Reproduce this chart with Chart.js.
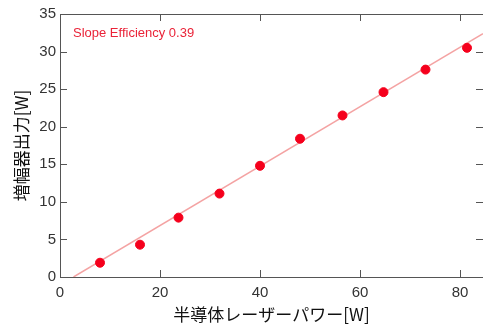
<!DOCTYPE html>
<html>
<head>
<meta charset="utf-8">
<script src="https://cdn.jsdelivr.net/npm/chart.js@4"></script>
<style>
  html, body { margin: 0; padding: 0; background: #fff; }
  #wrap { width: 483px; height: 326px; }
</style>
</head>
<body>
<div id="wrap"><canvas id="chart"></canvas></div>
<script>
// measured points
var laserPower = [8, 16, 23.7, 31.9, 40, 48, 56.5, 64.7, 73.1, 81.4];
var ampOutput = [1.9, 4.3, 7.9, 11.1, 14.8, 18.4, 21.5, 24.6, 27.6, 30.5];

// fitted line (ends)
var fitX = [2.7, 84.6];
var fitY = [0, 32.4];

var xTicks = [0, 20, 40, 60, 80];
var yTicks = [0, 5, 10, 15, 20, 25, 30, 35];

var slopeLabel = 'Slope Efficiency 0.39';

var pts = laserPower.map(function (x, i) { return { x: x, y: ampOutput[i] }; });
var fit = fitX.map(function (x, i) { return { x: x, y: fitY[i] }; });

// box + inward ticks
var frame = {
    id: 'frame',
    afterDraw: function (chart) {
        var ctx = chart.ctx, a = chart.chartArea;
        var xs = chart.scales.x, ys = chart.scales.y;
        var len = 7;
        ctx.save();
        ctx.strokeStyle = '#555';
        ctx.lineWidth = 1;
        ctx.beginPath();
        ctx.rect(a.left + 0.5, a.top + 0.5, a.right - a.left, a.bottom - a.top);
        xTicks.forEach(function (v) {
            var px = Math.round(xs.getPixelForValue(v)) + 0.5;
            ctx.moveTo(px, a.bottom); ctx.lineTo(px, a.bottom - len);
            ctx.moveTo(px, a.top); ctx.lineTo(px, a.top + len);
        });
        yTicks.forEach(function (v) {
            var py = Math.round(ys.getPixelForValue(v)) + 0.5;
            ctx.moveTo(a.left, py); ctx.lineTo(a.left + len, py);
            ctx.moveTo(a.right, py); ctx.lineTo(a.right - len, py);
        });
        ctx.stroke();

        ctx.fillStyle = '#ea2338';
        ctx.font = '13px "Liberation Sans", Arial, sans-serif';
        ctx.textBaseline = 'middle';
        ctx.fillText(slopeLabel, a.left + 13, a.top + 19);
        ctx.restore();
    }
};

new Chart(document.getElementById('chart'), {
    type: 'scatter',
    data: {
        datasets: [{
            data: fit,
            showLine: true,
            borderColor: '#f4a3a3',
            borderWidth: 1.5,
            pointRadius: 0,
            order: 2
        }, {
            data: pts,
            backgroundColor: '#f5001c',
            borderColor: '#f5001c',
            pointRadius: 4.5,
            order: 1
        }]
    },
    options: {
        responsive: true,
        maintainAspectRatio: false,
        animation: false,
        layout: { autoPadding: false, padding: { top: 14, right: 0, left: 0, bottom: 0 } },
        plugins: { legend: { display: false }, tooltip: { enabled: false } },
        scales: {
            x: {
                type: 'linear',
                min: 0,
                max: 84.6,
                afterBuildTicks: function (s) { s.ticks = xTicks.map(function (v) { return { value: v }; }); },
                afterFit: function (s) { s.height = 49; s.paddingLeft = 0; s.paddingRight = 0; },
                grid: { display: false, drawTicks: false },
                border: { display: false },
                ticks: { color: '#333', padding: 7, font: { family: '"Liberation Sans", Arial, sans-serif', size: 15 } },
                title: {
                    display: true,
                    text: '半導体レーザーパワー[W]',
                    color: '#111',
                    padding: { top: 0, bottom: 1 },
                    font: { family: '"Noto Sans CJK JP", sans-serif', size: 17 }
                }
            },
            y: {
                min: 0,
                max: 35,
                afterBuildTicks: function (s) { s.ticks = yTicks.map(function (v) { return { value: v }; }); },
                afterFit: function (s) { s.width = 60; },
                grid: { display: false, drawTicks: false },
                border: { display: false },
                ticks: { color: '#333', padding: 4, font: { family: '"Liberation Sans", Arial, sans-serif', size: 15 } },
                title: {
                    display: true,
                    text: '増幅器出力[W]',
                    color: '#111',
                    padding: { top: 11, bottom: 0 },
                    font: { family: '"Noto Sans CJK JP", sans-serif', size: 17 }
                }
            }
        }
    },
    plugins: [frame]
});
</script>
</body>
</html>
